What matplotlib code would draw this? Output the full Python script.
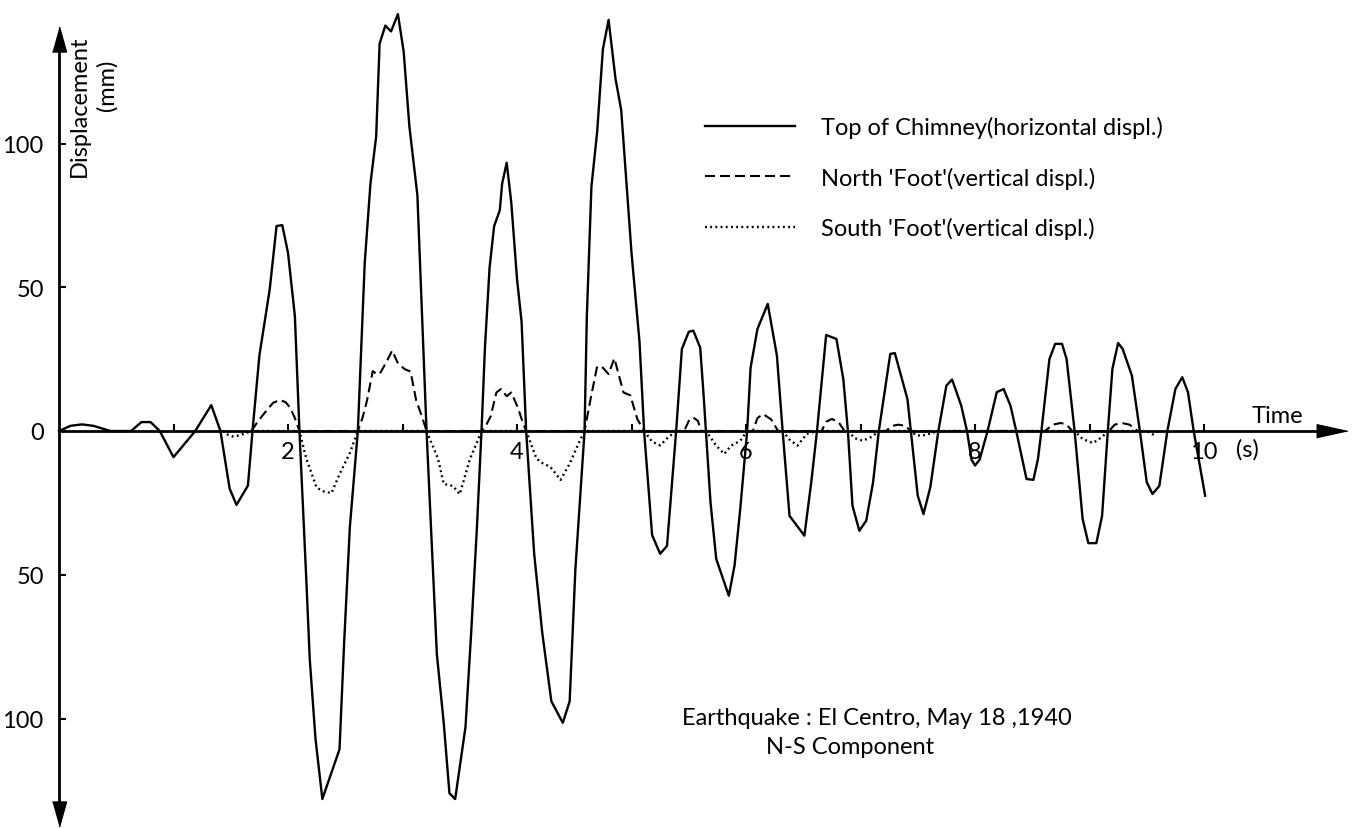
import matplotlib.pyplot as plt

plt.rcParams['font.family'] = ['Lato', 'DejaVu Sans']

# top of chimney, horizontal displacement (mm) against time (s)
chimney_t = [0, 0.1, 0.2, 0.3, 0.45, 0.63, 0.72, 0.8, 0.88, 1.0, 1.19, 1.33, 1.41, 1.49, 1.55, 1.65, 1.69,
             1.75, 1.84, 1.90, 1.95, 2.0, 2.06, 2.10,
             2.16, 2.19, 2.24, 2.30, 2.45, 2.49, 2.54, 2.61,
             2.67, 2.72, 2.77, 2.80, 2.85, 2.90, 2.96, 3.01, 3.06, 3.13, 3.21,
             3.30, 3.36, 3.41, 3.46, 3.55, 3.60, 3.65, 3.69,
             3.72, 3.76, 3.80, 3.85, 3.87, 3.91, 3.95, 4.00, 4.04, 4.08,
             4.15, 4.22, 4.30, 4.40, 4.46, 4.51, 4.59,
             4.61, 4.65, 4.70, 4.75, 4.80, 4.86, 4.91, 5.00, 5.07, 5.11,
             5.18, 5.25, 5.31, 5.39,
             5.44, 5.50, 5.54, 5.60, 5.63, 5.65,
             5.69, 5.74, 5.85, 5.90, 5.95, 6.01,
             6.04, 6.10, 6.19, 6.27, 6.32,
             6.38, 6.51, 6.57, 6.62,
             6.70, 6.79, 6.85, 6.89,
             6.93, 6.99, 7.05, 7.11, 7.16,
             7.26, 7.30, 7.41, 7.44,
             7.50, 7.55, 7.61, 7.68,
             7.75, 7.80, 7.88, 7.93,
             7.97, 8.00, 8.04, 8.11,
             8.19, 8.25, 8.31, 8.36,
             8.45, 8.51, 8.55, 8.58,
             8.65, 8.70, 8.76, 8.80, 8.87,
             8.94, 8.99, 9.06, 9.11, 9.16,
             9.20, 9.25, 9.29, 9.37, 9.44,
             9.50, 9.55, 9.61, 9.68,
             9.75, 9.81, 9.86, 9.91, 10.01]
chimney_y = [0, 1.8, 2.3, 1.8, 0, 0, 3.1, 3.1, 0, -9.1, 0, 9, 0, -20, -25.7, -19, 0,
             26.2, 49.2, 71.3, 71.6, 62, 40, 0,
             -51.8, -79.4, -107, -128, -110.7, -73.9, -33.5, 0,
             58.4, 86, 102.5, 134.7, 141, 139, 145, 132, 106, 82, 0,
             -77.6, -101.5, -126, -128, -103, -70, -33.5, 0,
             29, 56.6, 71.2, 76.8, 86, 93.3, 79.5, 52.9, 38, 0,
             -42.7, -70, -94, -101.5, -94, -48, 0,
             40, 85, 104, 132.8, 143, 122.6, 111.7, 62, 31, 0,
             -36.2, -42.7, -40, 0,
             28.5, 34.5, 34.9, 29, 12.3, 0,
             -24.8, -44.5, -57.3, -46.8, -27, 0,
             22, 35.5, 44.2, 26.2, 0,
             -29.5, -36.4, -17.8, 0,
             33.4, 32, 18, 0,
             -26, -34.7, -31.2, -17.8, 0,
             26.8, 27.1, 11.1, 0,
             -22.5, -28.9, -19.5, 0,
             15.8, 17.9, 8.8, 0,
             -10, -12, -10, 0,
             13.5, 14.6, 8.8, 0,
             -16.7, -17, -9.7, 0,
             25, 30.3, 30.3, 25, 0,
             -30.6, -39, -39, -29.5, 0,
             21.6, 30.6, 28.5, 19.3, 0,
             -17.8, -21.9, -19.1, 0,
             14.6, 18.7, 13.5, 0, -22.5]

# north 'foot', vertical displacement
north_t = [1.68, 1.74, 1.81, 1.87, 1.93, 1.98, 2.02, 2.06, 2.10,
           2.61, 2.65, 2.69, 2.74, 2.77, 2.80, 2.86, 2.91, 2.96, 3.02, 3.07, 3.12, 3.17, 3.21,
           3.69, 3.73, 3.77, 3.82, 3.86, 3.91, 3.95, 4.01, 4.05, 4.08,
           4.59, 4.64, 4.70, 4.75, 4.80, 4.85, 4.93, 4.99, 5.05, 5.11,
           5.46, 5.50, 5.54, 5.58, 5.61,
           6.06, 6.10, 6.15, 6.22, 6.28,
           6.66, 6.70, 6.75, 6.81, 6.86,
           7.22, 7.28, 7.33, 7.39, 7.44,
           8.61, 8.68, 8.75, 8.80, 8.85,
           9.17, 9.22, 9.28, 9.35, 9.42]
north_y = [0, 3.5, 7, 9.8, 10.8, 10, 8, 4.5, 0,
           0, 4.5, 10.6, 20.8, 20, 19.8, 24, 28, 23.5, 21.5, 20.7, 10.6, 5, 0,
           0, 2, 5.1, 13.4, 14.6, 12.1, 13.4, 7.9, 3, 0,
           0, 10.6, 22.5, 22, 19.8, 25.3, 13.4, 12.4, 4.2, 0,
           0, 3.5, 4.7, 3.5, 0,
           0, 4.5, 5.9, 4, 0,
           0, 3.2, 4.2, 3, 0,
           0, 1.8, 2.2, 1.8, 0,
           0, 2.2, 2.8, 2.2, 0,
           0, 2.2, 2.8, 2.2, 0]

# south 'foot', vertical displacement
south_t = [1.43, 1.47, 1.52, 1.58, 1.68,
           2.10, 2.16, 2.25, 2.31, 2.38, 2.45, 2.54, 2.61,
           3.21, 3.31, 3.36, 3.44, 3.50, 3.59, 3.65, 3.69,
           4.08, 4.17, 4.23, 4.29, 4.38, 4.46, 4.53, 4.59,
           5.11, 5.18, 5.25, 5.32, 5.39,
           5.65, 5.74, 5.81, 5.87, 5.95, 6.01,
           6.32, 6.38, 6.45, 6.53, 6.62,
           6.89, 6.95, 7.02, 7.10, 7.16,
           7.44, 7.48, 7.53, 7.60, 7.68,
           8.87, 8.94, 9.03, 9.11, 9.16,
           9.50, 9.55, 9.60]
south_y = [0, -1.2, -1.9, -1.5, 0,
           0, -9.6, -19.7, -21, -21.6, -15, -7.7, 0,
           0, -9.6, -18.4, -19.1, -22, -9.6, -4, 0,
           0, -9.6, -11.4, -12.4, -17, -11.4, -5, 0,
           0, -3.7, -5, -2.2, 0,
           0, -5.1, -8, -5.1, -3.4, 0,
           0, -3, -5.1, -1, 0,
           0, -2.5, -3.4, -2, 0,
           0, -1.3, -1.7, -1, 0,
           0, -2.8, -4.2, -2.1, 0,
           0, -1.2, 0]

y_ticks = [-100, -50, 0, 50, 100]
y_labels = ['100', '50', '0', '50', '100']
x_ticks = [1, 2, 3, 4, 5, 6, 7, 8, 9, 10]
x_labels = ['', '2', '', '4', '', '6', '', '8', '', '10']

W, H = 1361, 829
fig = plt.figure(figsize=(W / 100, H / 100), dpi=100)
ax = fig.add_axes([0, 0, 1, 1])
ax.set_xlim(-59 / 114.5, (W - 59) / 114.5)
ax.set_ylim(-(H - 432) / 2.875, 432 / 2.875)

ax.plot(chimney_t, chimney_y, color='black', lw=1.7, label='Top of Chimney(horizontal displ.)')
ax.plot(north_t, north_y, color='black', lw=1.5, linestyle=(0, (4.8, 2.4)),
        label="North 'Foot'(vertical displ.)")
ax.plot(south_t, south_y, color='black', lw=1.7, linestyle=(0, (0.8, 1.4)),
        label="South 'Foot'(vertical displ.)")

for side in ['top', 'right']:
    ax.spines[side].set_visible(False)
ax.spines['left'].set_position(('data', 0))
ax.spines['bottom'].set_position(('data', 0))
ax.spines['left'].set_bounds(-135, 138)
ax.spines['bottom'].set_bounds(0, 11.0)
for side in ['left', 'bottom']:
    ax.spines[side].set_linewidth(2)
    ax.spines[side].set_zorder(5)

# arrow heads on the axes
ax.plot(0, 136.5, marker=[(-0.28, -0.5), (0.28, -0.5), (0, 0.5)], markersize=18, color='black', clip_on=False)
ax.plot(0, -133.2, marker=[(-0.28, 0.5), (0.28, 0.5), (0, -0.5)], markersize=18, color='black', clip_on=False)
ax.plot(11.12, 0, marker=[(-0.5, -0.22), (-0.5, 0.22), (0.5, 0)], markersize=22, color='black', clip_on=False)

ax.set_yticks(y_ticks)
ax.set_yticklabels(y_labels)
ax.set_xticks(x_ticks)
ax.set_xticklabels(x_labels)
ax.tick_params(direction='in', length=5, width=1.5, labelsize=17, colors='black')
ax.tick_params(axis='y', pad=11)
ax.tick_params(axis='x', pad=7)

fs = 17
fig.text(79 / W, 1 - 106 / H, 'Displacement', rotation=90, ha='center', va='center', fontsize=fs)
fig.text(107 / W, 1 - 85 / H, '(mm)', rotation=90, ha='center', va='center', fontsize=fs)
fig.text(1277 / W, 1 - 417 / H, 'Time', ha='center', va='center', fontsize=fs)
fig.text(1247 / W, 1 - 450 / H, '(s)', ha='center', va='center', fontsize=fs)
fig.text(682 / W, 1 - 719 / H, 'Earthquake : El Centro, May 18 ,1940', ha='left', va='center', fontsize=fs)
fig.text(766 / W, 1 - 748 / H, 'N-S Component', ha='left', va='center', fontsize=fs)

ax.legend(loc='upper left', bbox_to_anchor=(705 / W, 1 - 117 / H), frameon=False, fontsize=fs,
          handlelength=3.8, handletextpad=1.1, labelspacing=1.2, borderpad=0, borderaxespad=0)

fig.savefig('out.png', dpi=100)
